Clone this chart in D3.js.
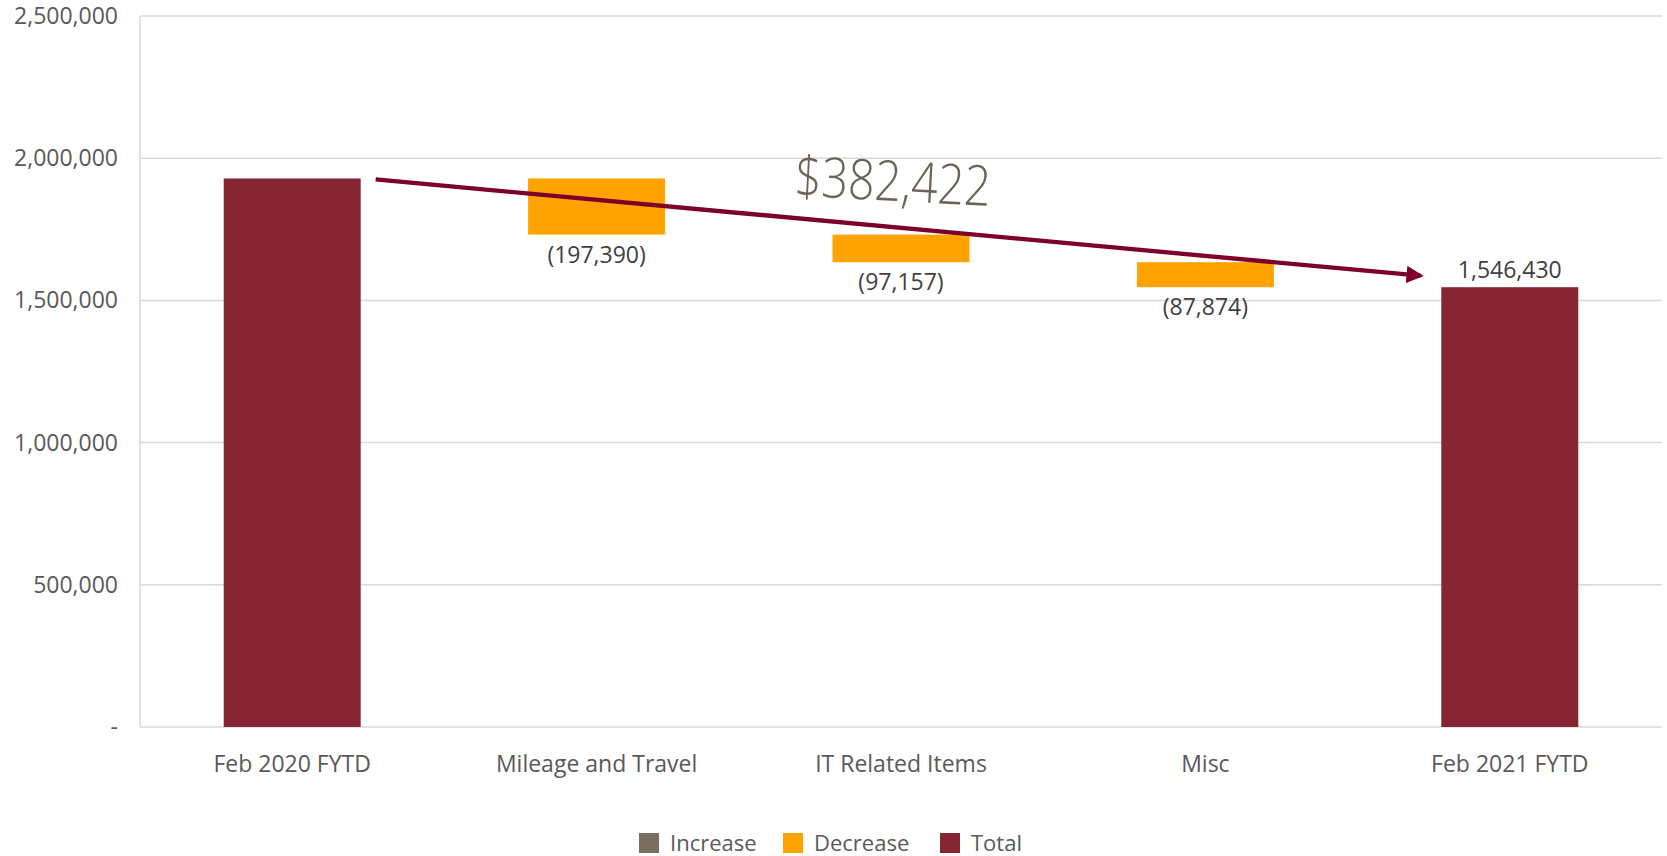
<!DOCTYPE html>
<html>
<head>
<meta charset="utf-8">
<style>
    body { margin: 0; background: #fff; }
    text { font-family: "Open Sans", "Noto Sans", sans-serif; }
</style>
</head>
<body>
<svg width="1667" height="856"></svg>
<script src="https://d3js.org/d3.v7.min.js"></script>
<script>
    // chart data
    var categories = ["Feb 2020 FYTD", "Mileage and Travel", "IT Related Items", "Misc", "Feb 2021 FYTD"];
    var kinds = ["total", "decrease", "decrease", "decrease", "total"];
    var values = [1928851, -197390, -97157, -87874, 1546430];
    var yTicks = [0, 500000, 1000000, 1500000, 2000000, 2500000];
    var legendNames = ["Increase", "Decrease", "Total"];
    var legendColors = ["#7a6e61", "#ffa300", "#862633"];
    var changeLabel = "$382,422";

    var colors = { increase: "#7a6e61", decrease: "#ffa300", total: "#862633" };

    var svg = d3.select("svg"),
        margin = { top: 16, right: 5, bottom: 129, left: 140 },
        width = +svg.attr("width") - margin.left - margin.right,
        height = +svg.attr("height") - margin.top - margin.bottom;

    // running totals for the waterfall
    var run = 0;
    var bars = categories.map(function (c, i) {
        var v = values[i], y0, y1;
        if (kinds[i] === "total") { y0 = 0; y1 = v; run = v; }
        else { y0 = run; y1 = run + v; run = y1; }
        return { cat: c, kind: kinds[i], value: v, lo: Math.min(y0, y1), hi: Math.max(y0, y1) };
    });

    var x = d3.scaleBand()
        .domain(categories)
        .range([0, width])
        .paddingInner(0.55)
        .paddingOuter(0.275);

    var y = d3.scaleLinear()
        .domain([0, 2500000])
        .range([height, 0]);

    var g = svg.append("g")
        .attr("transform", "translate(" + margin.left + "," + margin.top + ")");

    // gridlines
    g.selectAll(".grid")
        .data(yTicks)
        .enter().append("line")
        .attr("x1", 0).attr("x2", width)
        .attr("y1", function (d) { return y(d); })
        .attr("y2", function (d) { return y(d); })
        .attr("stroke", "#d9d9d9")
        .attr("stroke-width", 1.5);

    g.append("line")
        .attr("x1", 0).attr("x2", 0)
        .attr("y1", 0).attr("y2", height)
        .attr("stroke", "#d9d9d9")
        .attr("stroke-width", 1.5);

    // y axis labels
    var fmt = d3.format(",");
    g.selectAll(".ylab")
        .data(yTicks)
        .enter().append("text")
        .attr("x", -22)
        .attr("y", function (d) { return y(d); })
        .attr("dy", "0.35em")
        .attr("text-anchor", "end")
        .attr("fill", "#595959")
        .style("font-size", "23px")
        .text(function (d) { return d === 0 ? "-" : fmt(d); });

    // x axis labels
    g.selectAll(".xlab")
        .data(categories)
        .enter().append("text")
        .attr("x", function (d) { return x(d) + x.bandwidth() / 2; })
        .attr("y", height + 37)
        .attr("dy", "0.35em")
        .attr("text-anchor", "middle")
        .attr("fill", "#595959")
        .style("font-size", "23px")
        .text(function (d) { return d; });

    // bars
    g.selectAll(".bar")
        .data(bars)
        .enter().append("rect")
        .attr("x", function (d) { return x(d.cat); })
        .attr("width", x.bandwidth())
        .attr("y", function (d) { return y(d.hi); })
        .attr("height", function (d) { return y(d.lo) - y(d.hi); })
        .attr("fill", function (d) { return colors[d.kind]; });

    // data labels
    g.selectAll(".dlab")
        .data(bars.filter(function (d, i) { return i > 0; }))
        .enter().append("text")
        .attr("x", function (d) { return x(d.cat) + x.bandwidth() / 2; })
        .attr("y", function (d) { return d.kind === "total" ? y(d.hi) - 9 : y(d.lo) + 28; })
        .attr("text-anchor", "middle")
        .attr("fill", "#404040")
        .style("font-size", "23px")
        .text(function (d) {
            return d.value < 0 ? "(" + fmt(-d.value) + ")" : fmt(d.value);
        });

    // arrow from first total to last total
    svg.append("defs").append("marker")
        .attr("id", "head")
        .attr("viewBox", "0 0 10 10")
        .attr("refX", 8).attr("refY", 5)
        .attr("markerWidth", 4).attr("markerHeight", 4)
        .attr("orient", "auto")
        .append("path")
        .attr("d", "M0,0L10,5L0,10z")
        .attr("fill", "#7d0028");

    var first = bars[0], last = bars[bars.length - 1];
    var ax1 = x(first.cat) + x.bandwidth() + 15, ay1 = y(first.hi) + 1;
    var ax2 = x(last.cat) - 15, ay2 = y(last.hi) - 11;
    g.append("line")
        .attr("x1", ax1).attr("y1", ay1)
        .attr("x2", ax2 - 6).attr("y2", ay2 - 0.5)
        .attr("stroke", "#7d0028")
        .attr("stroke-width", 4.3)
        .attr("marker-end", "url(#head)");

    var mx = (ax1 + ax2) / 2 - 9, my = (ay1 + ay2) / 2 - 27;
    g.append("text")
        .attr("transform", "translate(" + mx + "," + my + ") rotate(3)")
        .attr("text-anchor", "middle")
        .attr("fill", "#6b6258")
        .attr("textLength", 196)
        .attr("lengthAdjust", "spacingAndGlyphs")
        .style("font-size", "56px")
        .style("font-weight", 300)
        .text(changeLabel);

    // legend
    var legend = svg.append("g").attr("transform", "translate(639,833)");
    var offsets = [0, 144, 301];
    legendNames.forEach(function (n, i) {
        var lg = legend.append("g").attr("transform", "translate(" + offsets[i] + ",0)");
        lg.append("rect").attr("width", 20).attr("height", 20).attr("fill", legendColors[i]);
        lg.append("text")
            .attr("x", 31).attr("y", 10).attr("dy", "0.35em")
            .attr("fill", "#595959")
            .style("font-size", "22px")
            .text(n);
    });
</script>
</body>
</html>
